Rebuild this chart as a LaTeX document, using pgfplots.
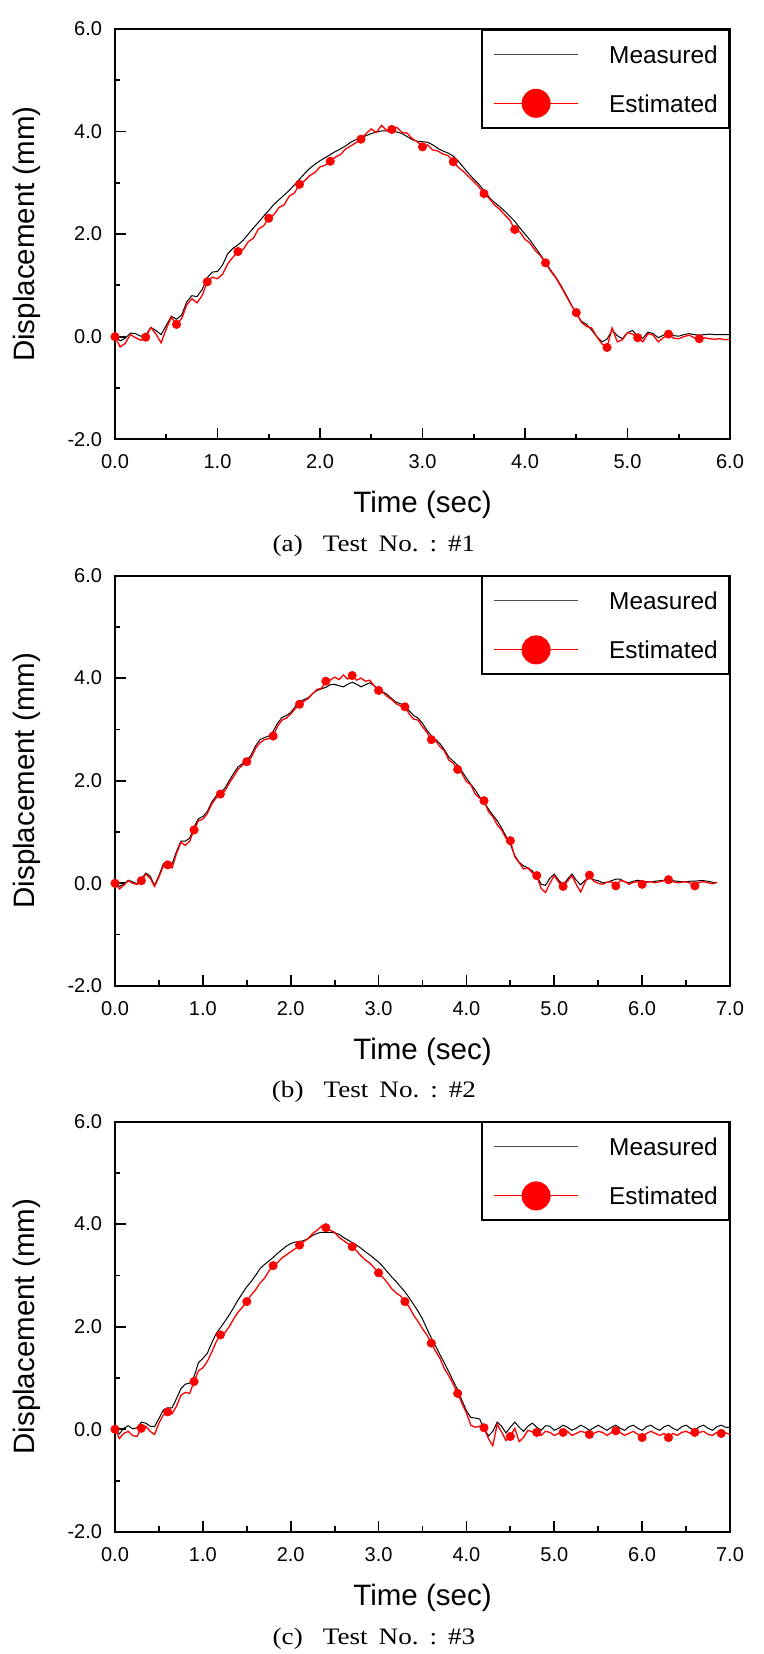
\documentclass[border=0pt]{standalone}
\usepackage{pgfplots}
\pgfplotsset{compat=1.18}
\usepackage{pgfplotstable}
\usepackage{fontspec}
\setmainfont{Liberation Sans}
\newfontfamily\capfont[FakeStretch=1.15]{Liberation Serif}

\pgfplotstableread{
t m e
0.00 0.00 0.00
0.05 -0.08 -0.20
0.10 -0.03 -0.13
0.15 0.07 0.04
0.20 0.06 -0.02
0.25 0.01 -0.07
0.30 0.03 -0.01
0.35 0.18 0.18
0.40 0.12 0.05
0.45 0.04 -0.12
0.50 0.22 0.15
0.55 0.40 0.38
0.60 0.34 0.24
0.65 0.42 0.35
0.70 0.68 0.62
0.75 0.80 0.74
0.80 0.78 0.66
0.85 0.92 0.80
0.90 1.15 1.07
0.95 1.26 1.16
1.00 1.27 1.13
1.05 1.40 1.22
1.10 1.62 1.42
1.15 1.72 1.55
1.20 1.79 1.66
1.25 1.88 1.70
1.30 2.00 1.85
1.35 2.12 1.92
1.40 2.23 2.10
1.45 2.35 2.16
1.50 2.46 2.31
1.55 2.58 2.38
1.60 2.67 2.52
1.65 2.76 2.57
1.70 2.85 2.74
1.75 2.96 2.80
1.80 3.07 2.97
1.85 3.18 3.04
1.90 3.28 3.14
1.95 3.36 3.20
2.00 3.43 3.31
2.05 3.49 3.34
2.10 3.55 3.42
2.15 3.61 3.50
2.20 3.66 3.55
2.25 3.72 3.66
2.30 3.79 3.72
2.35 3.84 3.78
2.40 3.87 3.85
2.45 3.92 3.96
2.50 3.96 4.05
2.55 3.99 3.98
2.60 4.01 4.12
2.65 4.01 4.02
2.70 4.00 4.04
2.75 3.99 4.08
2.80 3.96 3.98
2.85 3.90 3.97
2.90 3.84 3.86
2.95 3.81 3.80
3.00 3.80 3.70
3.05 3.79 3.74
3.10 3.74 3.64
3.15 3.67 3.62
3.20 3.62 3.56
3.25 3.58 3.53
3.30 3.52 3.41
3.35 3.42 3.30
3.40 3.30 3.22
3.45 3.18 3.12
3.50 3.07 3.02
3.55 2.97 2.92
3.60 2.85 2.79
3.65 2.72 2.70
3.70 2.62 2.57
3.75 2.54 2.49
3.80 2.45 2.38
3.85 2.35 2.28
3.90 2.25 2.09
3.95 2.12 2.04
4.00 2.00 1.90
4.05 1.88 1.82
4.10 1.74 1.68
4.15 1.60 1.58
4.20 1.45 1.44
4.25 1.30 1.28
4.30 1.16 1.15
4.35 1.00 0.98
4.40 0.82 0.80
4.45 0.63 0.62
4.50 0.45 0.47
4.55 0.30 0.28
4.60 0.24 0.20
4.65 0.13 0.17
4.70 0.00 0.00
4.75 -0.10 -0.14
4.80 -0.05 -0.21
4.85 0.13 0.17
4.90 0.02 -0.10
4.95 -0.04 -0.06
5.00 0.08 0.08
5.05 0.12 0.05
5.10 0.00 -0.02
5.15 -0.03 -0.10
5.20 0.09 0.06
5.25 0.06 0.03
5.30 -0.02 -0.10
5.35 0.03 -0.02
5.40 0.08 0.05
5.45 0.02 -0.03
5.50 0.01 -0.04
5.55 0.04 0.00
5.60 0.06 0.03
5.65 0.04 -0.02
5.70 0.03 -0.04
5.75 0.04 -0.02
5.80 0.05 -0.04
5.85 0.04 -0.05
5.90 0.04 -0.04
5.95 0.04 -0.06
6.00 0.04 -0.05
}\tabA

\pgfplotstableread{
t m e
0.00 0.00 0.00
0.05 -0.06 -0.11
0.10 -0.02 -0.04
0.15 0.06 0.05
0.20 0.03 0.00
0.25 -0.01 -0.02
0.30 0.08 0.05
0.35 0.20 0.18
0.40 0.14 0.10
0.45 -0.04 -0.06
0.50 0.15 0.12
0.55 0.38 0.34
0.60 0.40 0.36
0.65 0.38 0.30
0.70 0.62 0.58
0.75 0.82 0.80
0.80 0.82 0.74
0.85 0.88 0.82
0.90 1.10 1.04
0.95 1.26 1.22
1.00 1.30 1.25
1.05 1.40 1.36
1.10 1.58 1.54
1.15 1.70 1.66
1.20 1.77 1.74
1.25 1.85 1.80
1.30 2.00 1.95
1.35 2.14 2.08
1.40 2.27 2.22
1.45 2.33 2.30
1.50 2.40 2.37
1.55 2.50 2.45
1.60 2.68 2.63
1.65 2.80 2.74
1.70 2.84 2.80
1.75 2.87 2.82
1.80 2.96 2.87
1.85 3.12 3.06
1.90 3.23 3.18
1.95 3.27 3.22
2.00 3.33 3.30
2.05 3.44 3.40
2.10 3.53 3.49
2.15 3.58 3.55
2.20 3.62 3.60
2.25 3.70 3.70
2.30 3.76 3.78
2.35 3.79 3.80
2.40 3.82 3.94
2.45 3.87 3.96
2.50 3.88 4.02
2.55 3.85 3.97
2.60 3.83 4.06
2.65 3.88 3.98
2.70 3.92 4.05
2.75 3.88 3.96
2.80 3.83 4.00
2.85 3.87 3.94
2.90 3.91 3.96
2.95 3.85 3.85
3.00 3.77 3.76
3.05 3.73 3.72
3.10 3.68 3.64
3.15 3.60 3.58
3.20 3.53 3.50
3.25 3.50 3.46
3.30 3.45 3.44
3.35 3.36 3.30
3.40 3.27 3.20
3.45 3.22 3.18
3.50 3.12 3.05
3.55 2.98 2.94
3.60 2.88 2.80
3.65 2.80 2.78
3.70 2.72 2.66
3.75 2.60 2.58
3.80 2.46 2.40
3.85 2.38 2.34
3.90 2.30 2.22
3.95 2.18 2.14
4.00 2.05 1.98
4.05 1.93 1.92
4.10 1.82 1.74
4.15 1.68 1.66
4.20 1.58 1.61
4.25 1.45 1.40
4.30 1.33 1.30
4.35 1.22 1.14
4.40 1.08 1.04
4.45 0.92 0.88
4.50 0.76 0.83
4.55 0.54 0.52
4.60 0.41 0.40
4.65 0.34 0.28
4.70 0.30 0.30
4.75 0.24 0.20
4.80 0.14 0.15
4.85 -0.02 -0.10
4.90 -0.04 -0.18
4.95 0.10 0.00
5.00 0.18 0.15
5.05 0.06 0.02
5.10 -0.03 -0.06
5.15 0.08 0.04
5.20 0.18 0.15
5.25 0.06 -0.02
5.30 -0.03 -0.17
5.35 0.06 0.02
5.40 0.10 0.16
5.45 0.07 0.04
5.50 0.05 0.00
5.55 0.01 -0.02
5.60 0.02 0.02
5.65 0.05 0.03
5.70 0.08 -0.05
5.75 0.08 0.05
5.80 0.03 0.04
5.85 0.01 -0.02
5.90 0.04 0.02
5.95 0.06 0.03
6.00 0.04 -0.02
6.05 0.03 0.02
6.10 0.03 0.03
6.15 0.04 0.01
6.20 0.05 0.03
6.25 0.06 0.05
6.30 0.06 0.07
6.35 0.05 0.03
6.40 0.04 0.01
6.45 0.03 0.02
6.50 0.03 0.03
6.55 0.04 0.00
6.60 0.04 -0.05
6.65 0.05 0.02
6.70 0.05 0.03
6.75 0.04 0.01
6.80 0.02 -0.01
6.85 0.01 0.02
}\tabB

\pgfplotstableread{
t m e
0.00 0.00 0.00
0.05 -0.09 -0.18
0.10 0.02 -0.08
0.15 0.07 -0.04
0.20 0.01 -0.12
0.25 0.03 -0.14
0.30 0.14 0.02
0.35 0.12 0.06
0.40 0.06 -0.04
0.45 0.05 -0.10
0.50 0.21 0.12
0.55 0.38 0.28
0.60 0.42 0.34
0.65 0.42 0.30
0.70 0.60 0.45
0.75 0.79 0.66
0.80 0.88 0.72
0.85 0.90 0.70
0.90 1.03 0.93
0.95 1.30 1.14
1.00 1.38 1.20
1.05 1.48 1.32
1.10 1.68 1.50
1.15 1.86 1.70
1.20 1.98 1.84
1.25 2.10 1.88
1.30 2.23 2.00
1.35 2.37 2.15
1.40 2.52 2.28
1.45 2.65 2.38
1.50 2.78 2.49
1.55 2.88 2.62
1.60 3.00 2.72
1.65 3.13 2.85
1.70 3.21 2.94
1.75 3.28 3.08
1.80 3.35 3.19
1.85 3.43 3.25
1.90 3.50 3.34
1.95 3.57 3.40
2.00 3.62 3.46
2.05 3.65 3.52
2.10 3.66 3.59
2.15 3.68 3.66
2.20 3.72 3.72
2.25 3.78 3.82
2.30 3.82 3.88
2.35 3.84 3.96
2.40 3.84 3.93
2.45 3.84 3.88
2.50 3.83 3.84
2.55 3.80 3.74
2.60 3.74 3.68
2.65 3.69 3.62
2.70 3.64 3.56
2.75 3.59 3.48
2.80 3.53 3.38
2.85 3.46 3.30
2.90 3.40 3.24
2.95 3.33 3.15
3.00 3.26 3.05
3.05 3.17 2.96
3.10 3.07 2.86
3.15 2.97 2.74
3.20 2.88 2.66
3.25 2.78 2.60
3.30 2.68 2.49
3.35 2.56 2.38
3.40 2.43 2.22
3.45 2.30 2.10
3.50 2.15 1.96
3.55 1.96 1.84
3.60 1.78 1.68
3.65 1.62 1.52
3.70 1.45 1.38
3.75 1.29 1.18
3.80 1.12 1.04
3.85 0.94 0.88
3.90 0.77 0.70
3.95 0.56 0.50
4.00 0.36 0.32
4.05 0.23 0.08
4.10 0.22 0.04
4.15 0.20 0.06
4.20 0.02 0.03
4.25 -0.13 -0.18
4.30 -0.04 -0.32
4.35 0.14 0.10
4.40 0.06 -0.05
4.45 -0.07 -0.22
4.50 0.04 -0.14
4.55 0.14 0.02
4.60 0.04 -0.24
4.65 -0.04 -0.16
4.70 0.06 -0.02
4.75 0.12 -0.05
4.80 0.04 -0.06
4.85 -0.02 -0.12
4.90 0.07 -0.04
4.95 0.06 -0.06
5.00 -0.02 -0.12
5.05 0.02 -0.08
5.10 0.08 -0.06
5.15 0.04 -0.04
5.20 -0.02 -0.12
5.25 0.02 -0.08
5.30 0.08 -0.04
5.35 0.04 -0.06
5.40 -0.02 -0.10
5.45 0.03 -0.08
5.50 0.08 -0.04
5.55 0.03 -0.06
5.60 -0.02 -0.12
5.65 0.04 -0.06
5.70 0.08 -0.03
5.75 0.02 -0.06
5.80 -0.02 -0.12
5.85 0.05 -0.08
5.90 0.08 -0.04
5.95 0.02 -0.10
6.00 -0.02 -0.16
6.05 0.05 -0.08
6.10 0.08 -0.04
6.15 0.02 -0.08
6.20 -0.02 -0.12
6.25 0.05 -0.08
6.30 0.08 -0.16
6.35 0.02 -0.08
6.40 -0.02 -0.12
6.45 0.05 -0.06
6.50 0.08 -0.04
6.55 0.02 -0.08
6.60 -0.02 -0.06
6.65 0.05 -0.06
6.70 0.08 -0.04
6.75 0.02 -0.10
6.80 -0.02 -0.12
6.85 0.05 -0.06
6.90 0.08 -0.08
6.95 0.04 -0.07
7.00 0.04 -0.10
}\tabC

\pgfplotsset{
  panel/.style={
    scale only axis, width=307.5pt, height=205.2pt,
    anchor=north west,
    xmin=0, ymin=-2, ymax=6,
    ytick={-2,0,2,4,6},
    minor x tick num=1, minor y tick num=1,
    tick pos=left, tick align=inside,
    major tick length=5.5pt, minor tick length=2.7pt,
    axis line style={line width=1pt},
    every tick/.style={black, line width=0.9pt},
    /pgf/number format/fixed, /pgf/number format/fixed zerofill,
    /pgf/number format/precision=1,
    /pgf/number format/assume math mode=true,
    tick label style={font=\fontsize{10}{12}\selectfont},
    xticklabel style={inner ysep=7.5pt, inner xsep=0pt},
    yticklabel style={inner xsep=6.3pt, inner ysep=0pt},
    xlabel={Time (sec)},
    ylabel={Displacement (mm)},
    every axis x label/.style={at={(axis description cs:0.5,-0.1791)}, anchor=base,
      font=\fontsize{14.75}{17}\selectfont},
    every axis y label/.style={at={(axis description cs:-0.1301,0.5)}, rotate=90, anchor=base,
      font=\fontsize{14.75}{17}\selectfont},
    legend style={at={(1,1)}, anchor=north east, draw=black, line width=0.9pt,
      fill=white, inner xsep=5.7pt, inner ysep=5.2pt, row sep=10.55pt,
      cells={anchor=west},
      /tikz/every odd column/.append style={column sep=15.3pt},
      nodes={inner sep=0pt, text height=8.8pt, text depth=0pt, minimum height=14pt,
        font=\fontsize{12.2}{14}\selectfont}},
    legend image code/.code={
      \draw[mark repeat=2, mark phase=2, #1] plot coordinates {(0pt,0pt) (21pt,0pt) (42pt,0pt)};},
  },
  meas/.style={black, line width=0.5pt, forget plot},
  estl/.style={red, line width=0.65pt, forget plot},
  estm/.style={red, only marks, mark=*, mark size=2.1pt, mark repeat=6,
    mark options={fill=red, draw=red, line width=0.3pt}, forget plot},
}

\begin{document}
\begin{tikzpicture}
\path[use as bounding box] (0pt,0pt) rectangle (382pt,-827pt);

\begin{axis}[panel, at={(57.5pt,-14.45pt)}, xmax=6, xtick={0,1,2,3,4,5,6}]
\addplot[meas] table[x=t, y=m] {\tabA};
\addplot[estl] table[x=t, y=e] {\tabA};
\addplot[estm, restrict x to domain=0:5.8] table[x=t, y=e] {\tabA};
\addlegendimage{black!70, line width=0.5pt}
\addlegendentry{Measured}
\addlegendimage{red, line width=0.5pt, mark=*, mark size=7pt, mark options={fill=red, draw=red}}
\addlegendentry{Estimated}
\end{axis}

\begin{axis}[panel, at={(57.5pt,-287.75pt)}, xmax=7, xtick={0,1,2,3,4,5,6,7}]
\addplot[meas] table[x=t, y=m] {\tabB};
\addplot[estl] table[x=t, y=e] {\tabB};
\addplot[estm] table[x=t, y=e] {\tabB};
\addlegendimage{black!70, line width=0.5pt}
\addlegendentry{Measured}
\addlegendimage{red, line width=0.5pt, mark=*, mark size=7pt, mark options={fill=red, draw=red}}
\addlegendentry{Estimated}
\end{axis}

\begin{axis}[panel, at={(57.5pt,-560.75pt)}, xmax=7, xtick={0,1,2,3,4,5,6,7}]
\addplot[meas] table[x=t, y=m] {\tabC};
\addplot[estl] table[x=t, y=e] {\tabC};
\addplot[estm] table[x=t, y=e] {\tabC};
\addlegendimage{black!70, line width=0.5pt}
\addlegendentry{Measured}
\addlegendimage{red, line width=0.5pt, mark=*, mark size=7pt, mark options={fill=red, draw=red}}
\addlegendentry{Estimated}
\end{axis}

\node[anchor=base, font=\capfont\fontsize{11.8}{13}\selectfont] at (187pt,-275.5pt) {(a)\hspace{10pt}Test\hspace{5.5pt}No.\hspace{5.5pt}:\hspace{5.5pt}\#1};
\node[anchor=base, font=\capfont\fontsize{11.8}{13}\selectfont] at (187pt,-548.75pt) {(b)\hspace{10pt}Test\hspace{5.5pt}No.\hspace{5.5pt}:\hspace{5.5pt}\#2};
\node[anchor=base, font=\capfont\fontsize{11.8}{13}\selectfont] at (187pt,-822pt) {(c)\hspace{10pt}Test\hspace{5.5pt}No.\hspace{5.5pt}:\hspace{5.5pt}\#3};
\end{tikzpicture}
\end{document}
